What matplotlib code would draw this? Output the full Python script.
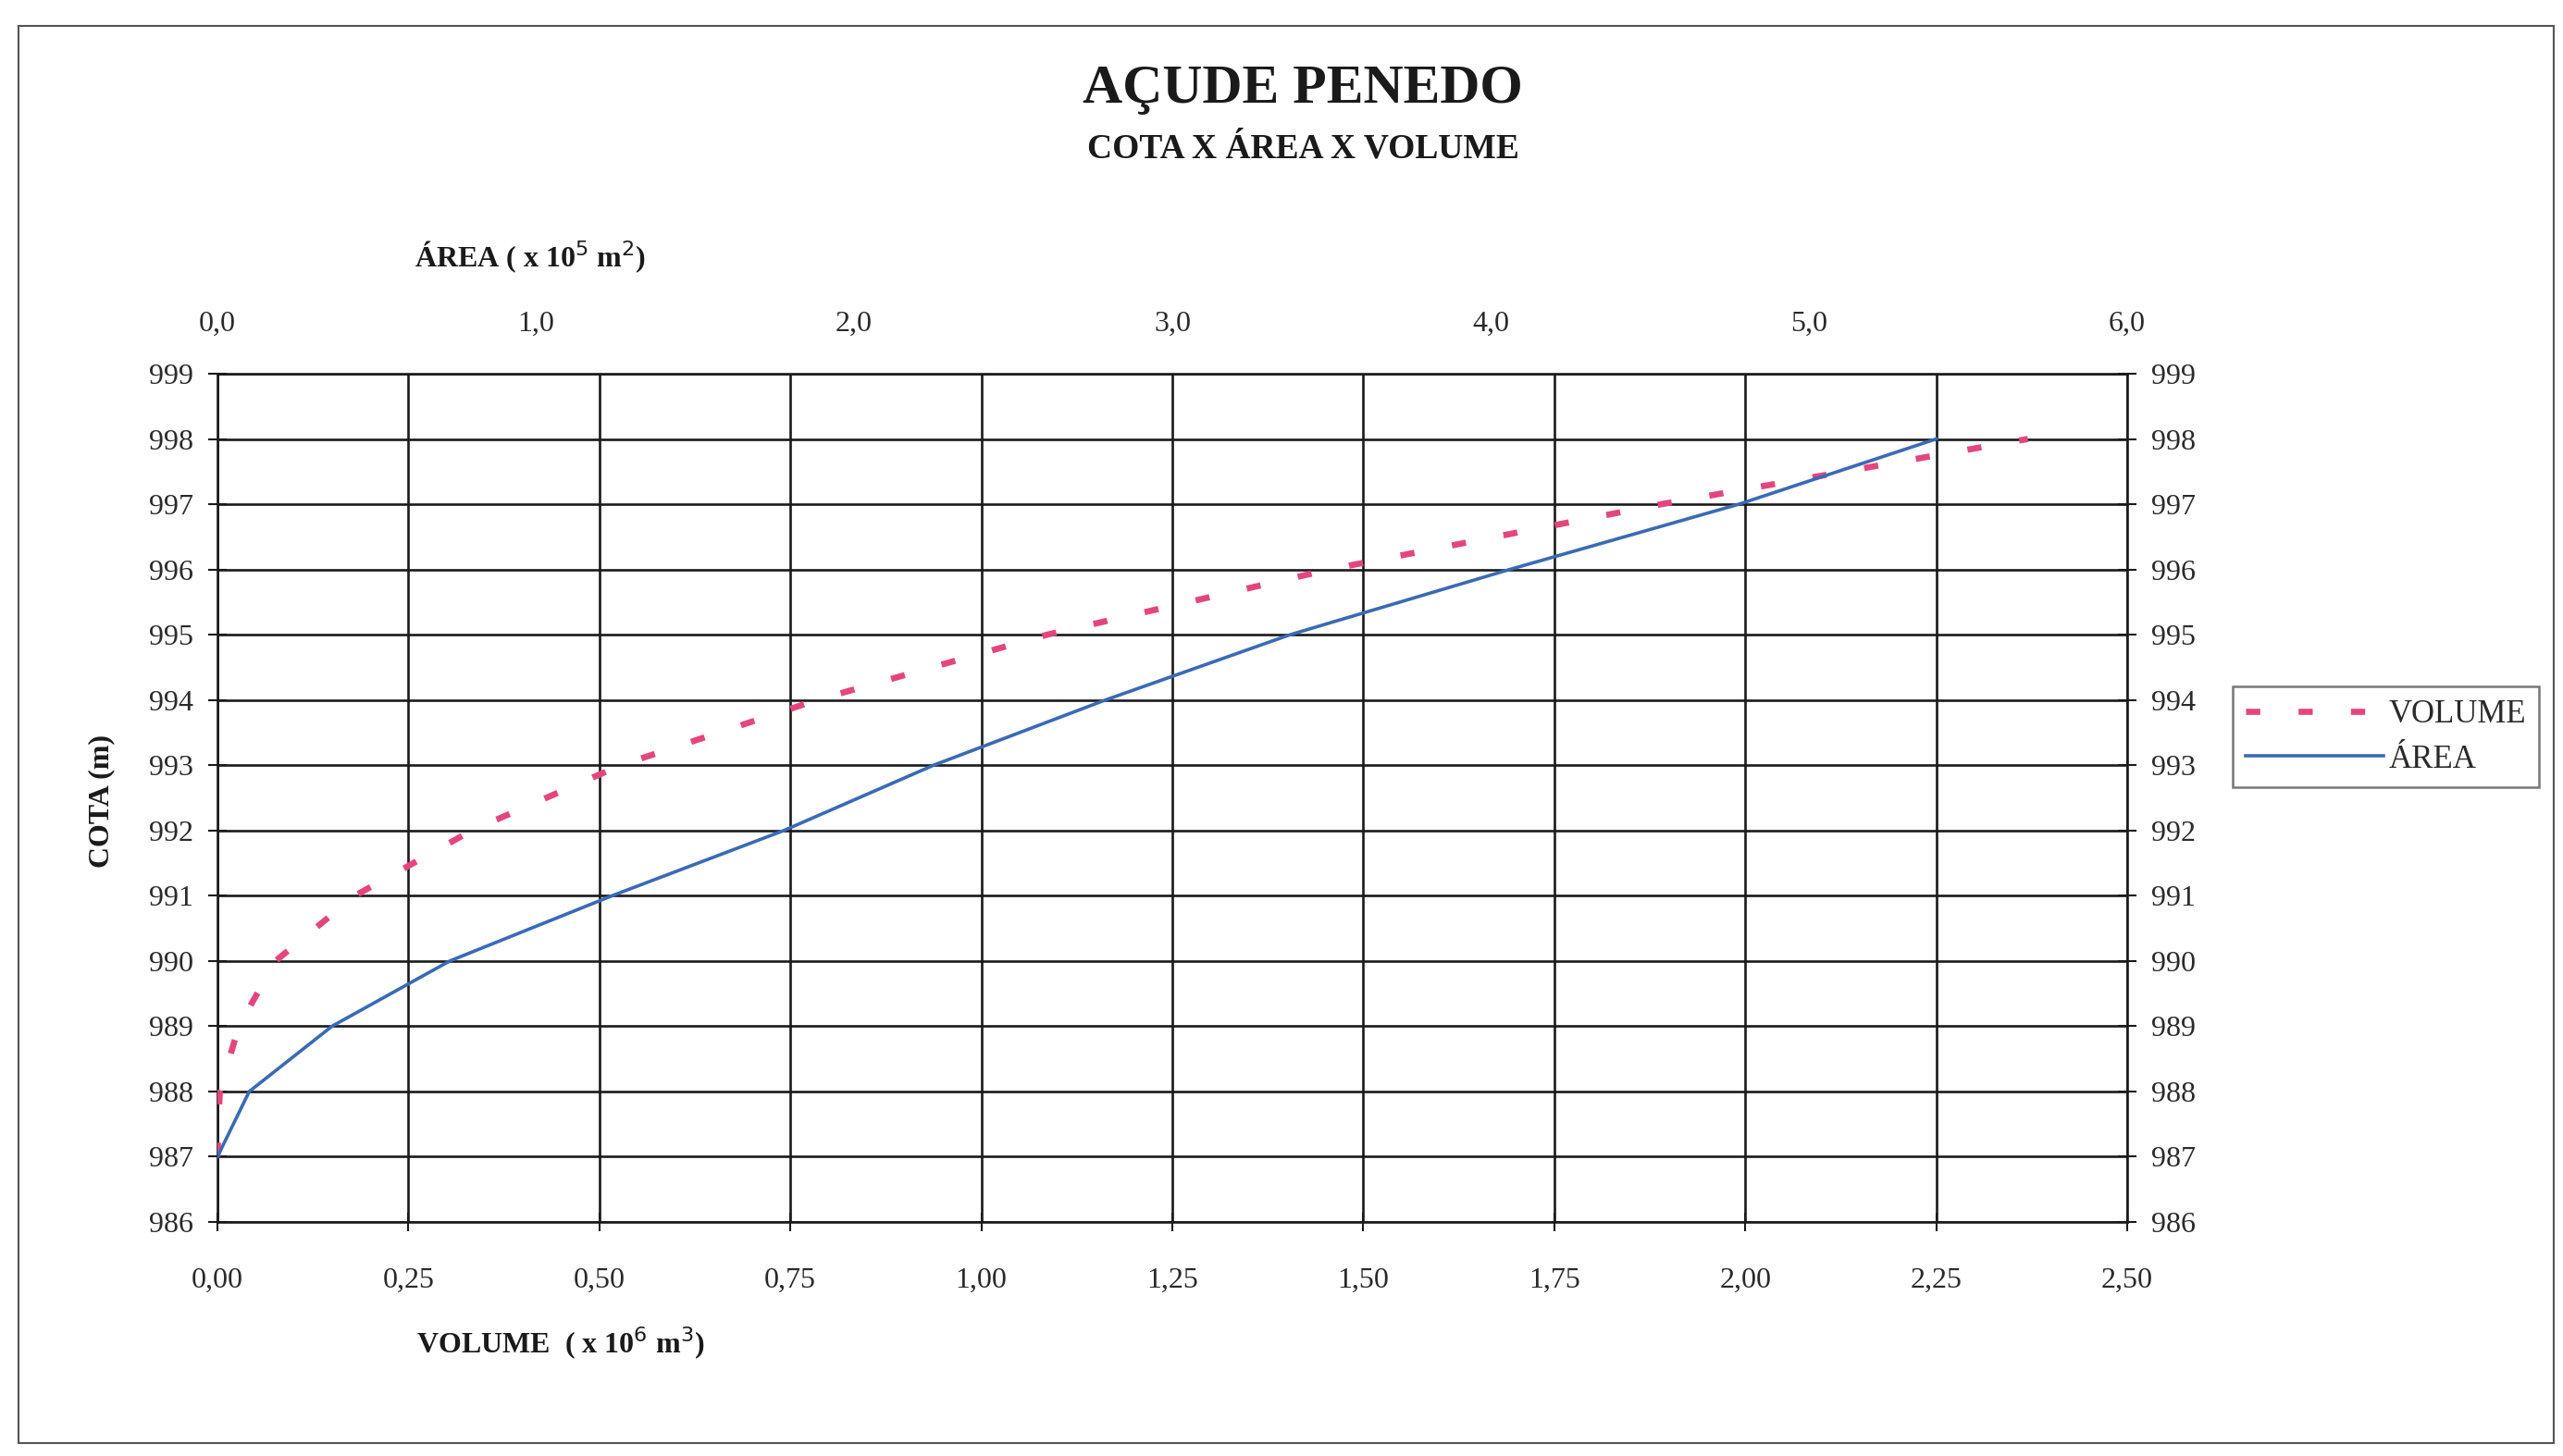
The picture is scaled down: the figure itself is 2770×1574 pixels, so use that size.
import matplotlib
matplotlib.use("Agg")
import matplotlib.pyplot as plt
from matplotlib.patches import Rectangle

# ---- data ----
cota_area = [987, 988, 989, 990, 991, 992, 993, 994, 995, 996, 997, 998]
area = [0.0, 0.10, 0.36, 0.73, 1.24, 1.78, 2.25, 2.79, 3.37, 4.06, 4.78, 5.40]

cota_vol = [987, 988, 989, 990, 991, 992, 993, 994, 995, 996, 997, 998]
volume = [0.0, 0.003, 0.028, 0.076, 0.18, 0.333, 0.528, 0.785, 1.086, 1.456, 1.89, 2.37]

vol_ticks = [0.0, 0.25, 0.5, 0.75, 1.0, 1.25, 1.5, 1.75, 2.0, 2.25, 2.5]
area_ticks = [0.0, 1.0, 2.0, 3.0, 4.0, 5.0, 6.0]
cota_ticks = list(range(986, 1000))

plt.rcParams['font.family'] = ['Liberation Serif', 'DejaVu Serif']

W, H = 2770, 1574
fig = plt.figure(figsize=(W / 100, H / 100), dpi=100)
fig.patch.set_facecolor('white')

# outer frame
fig.add_artist(Rectangle((20 / W, 1 - 1560 / H), 2740 / W, (1560 - 28) / H,
                         transform=fig.transFigure, fill=False,
                         edgecolor='#555555', linewidth=1.5))

L, R, T, B = 235, 2299, 404, 1321
ax = fig.add_axes([L / W, 1 - B / H, (R - L) / W, (B - T) / H])

pink = '#E5457E'
blue = '#3A6AB4'
txt = '#2a2a2a'

ax.set_xlim(0, 2.5)
ax.set_ylim(986, 999)
ax.set_xticks(vol_ticks)
ax.set_xticklabels([f"{v:.2f}".replace('.', ',') for v in vol_ticks])
ax.set_yticks(cota_ticks)
ax.set_yticklabels([str(c) for c in cota_ticks])
ax.grid(True, color='#1a1a1a', linewidth=1.9)
ax.set_axisbelow(True)
for s in ax.spines.values():
    s.set_color('#1a1a1a')
    s.set_linewidth(1.9)
ax.tick_params(axis='both', direction='inout', length=14, width=1.5,
               labelsize=23, colors='#1a1a1a', labelcolor=txt)
ax.tick_params(axis='x', pad=28)
ax.tick_params(axis='y', pad=12, right=True, labelright=True)

ax2 = ax.twiny()
ax2.set_xlim(0, 6.0)
ax2.set_xticks(area_ticks)
ax2.set_xticklabels([f"{v:.1f}".replace('.', ',') for v in area_ticks])
ax2.tick_params(axis='x', direction='in', length=0, labelsize=23,
                labelcolor=txt, pad=28)
for s in ax2.spines.values():
    s.set_visible(False)

lv, = ax.plot(volume, cota_vol, color=pink, linewidth=4.8,
              dashes=(2.3, 6.2), dash_capstyle='butt',
              label='VOLUME', zorder=4)
la, = ax2.plot(area, cota_area, color=blue, linewidth=2.6, label='ÁREA', zorder=5)

# titles
fig.text(1408 / W, 1 - 97 / H, 'AÇUDE PENEDO', ha='center', va='center',
         fontsize=43, fontweight='bold', color='#1a1a1a')
fig.text(1408 / W, 1 - 161 / H, 'COTA X ÁREA X VOLUME', ha='center', va='center',
         fontsize=27, fontweight='bold', color='#1a1a1a')

# axis labels
fig.text(448 / W, 1 - 278 / H, 'ÁREA ( x 10$^{5}$ m$^{2}$)', ha='left', va='center',
         fontsize=23, fontweight='bold', color='#1a1a1a')
fig.text(450 / W, 1 - 1452 / H, 'VOLUME  ( x 10$^{6}$ m$^{3}$)', ha='left', va='center',
         fontsize=23, fontweight='bold', color='#1a1a1a')
fig.text(110 / W, 1 - 866 / H, 'COTA (m)', ha='center', va='center', rotation=90,
         fontsize=23, fontweight='bold', color='#1a1a1a')

# legend
leg = fig.legend(handles=[lv, la], labels=['VOLUME', 'ÁREA'],
                 loc='upper left', bbox_to_anchor=(2413 / W, 1 - 742 / H),
                 bbox_transform=fig.transFigure, frameon=True, fancybox=False,
                 fontsize=25, handlelength=4.3, handletextpad=0.15,
                 borderpad=0.4, labelspacing=0.45, borderaxespad=0)
leg.get_frame().set_edgecolor('#555555')
leg.get_frame().set_linewidth(1.8)
for t in leg.get_texts():
    t.set_color(txt)

fig.savefig('out.png', dpi=100, facecolor='white')
